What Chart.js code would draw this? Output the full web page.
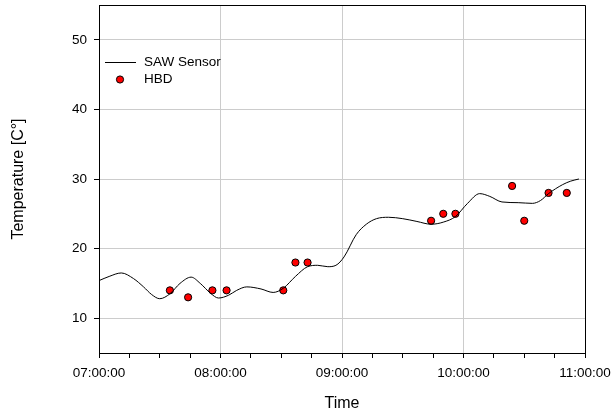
<!DOCTYPE html>
<html>
<head>
<meta charset="utf-8">
<script src="https://cdn.jsdelivr.net/npm/chart.js@4.4.1/dist/chart.umd.min.js"></script>
<style>
    html, body { margin: 0; padding: 0; background: #fff; }
    #wrap { width: 616px; height: 413px; }
</style>
</head>
<body>
<div id="wrap"><canvas id="grafico"></canvas></div>
<script>
// tempo em minutos depois das 07:00:00
const sawTempo = [0, 5, 11, 17, 22, 26, 30, 35, 40, 45.5, 50, 55, 59, 64, 68, 73, 80, 86, 91, 97,
    103, 108, 113, 117, 121, 127, 132, 137, 143, 150, 157, 164, 170, 176, 182, 188, 193, 199,
    207, 214, 218, 222, 229, 233, 237];
const sawTemp = [15.4, 16.0, 16.5, 15.7, 14.5, 13.4, 12.8, 13.5, 15.0, 15.9, 15.0, 13.6, 12.9, 13.3,
    14.0, 14.5, 14.2, 13.7, 14.3, 16.0, 17.4, 17.6, 17.4, 17.6, 18.8, 22.0, 23.5, 24.3, 24.5, 24.3,
    23.9, 23.5, 23.8, 24.6, 26.5, 27.9, 27.5, 26.7, 26.6, 26.5, 26.9, 27.9, 29.2, 29.7, 30.0];

const hbdTempo = [35, 44, 56, 63, 91, 97, 103, 164, 170, 176, 204, 210, 222, 231];
const hbdTemp = [14, 13, 14, 14, 14, 18, 18, 24, 25, 25, 29, 24, 28, 28];

const yTicks = [10, 20, 30, 40, 50];
const xTicks = [0, 15, 30, 45, 60, 75, 90, 105, 120, 135, 150, 165, 180, 195, 210, 225, 240];
const xLabels = {0: '07:00:00', 60: '08:00:00', 120: '09:00:00', 180: '10:00:00', 240: '11:00:00'};

const fonte = 'Liberation Sans, Arial, sans-serif';

// moldura e legenda dentro da área do gráfico
const molduraLegenda = {
    id: 'molduraLegenda',
    afterDraw(chart) {
        const ctx = chart.ctx;
        const a = chart.chartArea;
        ctx.save();
        ctx.strokeStyle = '#000';
        ctx.lineWidth = 1;
        ctx.beginPath();
        ctx.moveTo(a.left, a.top + 0.5);
        ctx.lineTo(a.right + 0.5, a.top + 0.5);
        ctx.lineTo(a.right + 0.5, a.bottom);
        ctx.stroke();

        const ds = chart.data.datasets;
        ctx.font = '13.5px ' + fonte;
        ctx.fillStyle = '#000';
        ctx.textBaseline = 'middle';
        ctx.textAlign = 'left';

        ctx.beginPath();
        ctx.moveTo(a.left + 6, a.top + 57.5);
        ctx.lineTo(a.left + 37, a.top + 57.5);
        ctx.stroke();
        ctx.fillText(ds[0].label, a.left + 45, a.top + 57.5);

        ctx.beginPath();
        ctx.arc(a.left + 21, a.top + 74.5, 3.6, 0, Math.PI * 2);
        ctx.fillStyle = ds[1].backgroundColor;
        ctx.fill();
        ctx.stroke();
        ctx.fillStyle = '#000';
        ctx.fillText(ds[1].label, a.left + 45, a.top + 74.5);
        ctx.restore();
    }
};

new Chart(document.getElementById('grafico'), {
    type: 'line',
    data: {
        datasets: [{
            label: 'SAW Sensor',
            data: sawTempo.map((t, i) => ({x: t, y: sawTemp[i]})),
            borderColor: '#000',
            borderWidth: 1,
            pointRadius: 0,
            cubicInterpolationMode: 'monotone',
            fill: false
        }, {
            label: 'HBD',
            data: hbdTempo.map((t, i) => ({x: t, y: hbdTemp[i]})),
            showLine: false,
            pointRadius: 3.6,
            pointBorderWidth: 1,
            pointBorderColor: '#000',
            pointBackgroundColor: '#ff0000',
            backgroundColor: '#ff0000',
            borderColor: '#000'
        }]
    },
    options: {
        responsive: true,
        maintainAspectRatio: false,
        animation: false,
        devicePixelRatio: 1,
        layout: {padding: {left: 0, right: 31, top: 4, bottom: 0}},
        plugins: {
            legend: {display: false},
            tooltip: {enabled: false}
        },
        scales: {
            x: {
                type: 'linear',
                min: 0,
                max: 240,
                afterBuildTicks: s => { s.ticks = xTicks.map(v => ({value: v})); },
                afterFit: s => { s.height = 60; s.paddingLeft = 0; s.paddingRight = 0; },
                grid: {
                    color: c => (c.tick && c.tick.value % 60 === 0) ? '#cccccc' : 'rgba(0,0,0,0)',
                    tickColor: '#000',
                    tickLength: 5
                },
                border: {color: '#000', width: 1},
                ticks: {
                    autoSkip: false,
                    maxRotation: 0,
                    padding: 7,
                    color: '#000',
                    font: {family: fonte, size: 13.5},
                    callback: v => xLabels[v] || ''
                },
                title: {
                    display: true,
                    text: 'Time',
                    color: '#000',
                    font: {family: fonte, size: 16},
                    padding: {top: 2, bottom: 0}
                }
            },
            y: {
                min: 5,
                max: 55,
                afterBuildTicks: s => { s.ticks = yTicks.map(v => ({value: v})); },
                afterFit: s => { s.width = 99; s.paddingTop = 0; s.paddingBottom = 0; },
                grid: {color: '#cccccc', tickColor: '#000', tickLength: 5},
                border: {color: '#000', width: 1},
                ticks: {
                    padding: 7,
                    color: '#000',
                    font: {family: fonte, size: 13.5}
                },
                title: {
                    display: true,
                    text: 'Temperature [C°]',
                    color: '#000',
                    font: {family: fonte, size: 16},
                    padding: {top: 9, bottom: 0}
                }
            }
        }
    },
    plugins: [molduraLegenda]
});
</script>
</body>
</html>
